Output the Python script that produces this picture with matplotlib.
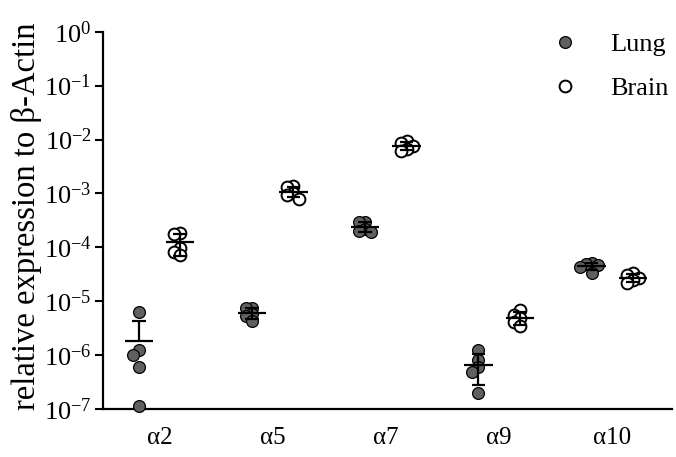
import numpy as np
import matplotlib
matplotlib.use('Agg')
import matplotlib.pyplot as plt
from matplotlib.lines import Line2D

plt.rcParams['font.family'] = ['Liberation Serif', 'DejaVu Serif']
plt.rcParams['mathtext.fontset'] = 'custom'
plt.rcParams['mathtext.rm'] = 'Liberation Serif'
plt.rcParams['mathtext.it'] = 'Liberation Serif:italic'

categories = ['α2', 'α5', 'α7', 'α9', 'α10']

# relative expression, 5 animals per subunit
lung_expr = [
    [6.2e-6, 1.24e-6, 1.0e-6, 6.0e-7, 1.15e-7],
    [7.6e-6, 7.4e-6, 5.8e-6, 5.4e-6, 4.3e-6],
    [3.0e-4, 2.9e-4, 2.2e-4, 2.0e-4, 1.9e-4],
    [1.24e-6, 8.1e-7, 6.1e-7, 4.9e-7, 1.95e-7],
    [5.1e-5, 4.9e-5, 4.6e-5, 4.3e-5, 3.3e-5],
]
brain_expr = [
    [1.85e-4, 1.8e-4, 9.7e-5, 8.3e-5, 7.2e-5],
    [1.35e-3, 1.3e-3, 1.0e-3, 0.95e-3, 0.8e-3],
    [9.5e-3, 8.5e-3, 7.6e-3, 6.8e-3, 6.2e-3],
    [6.9e-6, 5.5e-6, 4.8e-6, 4.2e-6, 3.4e-6],
    [3.3e-5, 3.05e-5, 2.75e-5, 2.45e-5, 2.2e-5],
]

ytick_exp = [0, -1, -2, -3, -4, -5, -6, -7]

fig = plt.figure(figsize=(6.76, 4.57), dpi=100)
ax = fig.add_axes([0.152, 0.105, 0.842, 0.8256])
ax.set_yscale('log')
ax.set_ylim(1e-7, 1)
ax.set_xlim(-0.5, 4.53)


def swarm(vals, center, min_px=6.0):
    # spread overlapping points sideways (in screen pixels)
    pts = ax.transData.transform(np.column_stack([np.full(len(vals), center), vals]))
    ypx = pts[:, 1]
    x0 = pts[0, 0]
    placed = []
    xs = np.zeros(len(vals))
    for i in np.argsort(vals)[::-1]:
        for k in [0, -1, 1, -2, 2, -3, 3]:
            xp = k * min_px
            if all(np.hypot(xp - px, ypx[i] - py) >= min_px for px, py in placed):
                break
        placed.append((xp, ypx[i]))
        xs[i] = ax.transData.inverted().transform((x0 + xp, ypx[i]))[0]
    return xs


def draw_group(vals, center, face, lw):
    vals = np.array(vals)
    xs = swarm(vals, center)
    ax.plot(xs, vals, 'o', ms=8.5, mfc=face, mec='black', mew=lw,
            clip_on=False, zorder=3)
    m = vals.mean()
    sd = vals.std(ddof=1)
    ax.hlines(m, center - 0.125, center + 0.125, color='black', lw=1.6, zorder=4)
    ax.vlines(center, m, m + sd, color='black', lw=1.6, zorder=4)
    ax.hlines(m + sd, center - 0.06, center + 0.06, color='black', lw=1.6, zorder=4)
    if m - sd > 0:
        ax.vlines(center, m - sd, m, color='black', lw=1.6, zorder=4)
        ax.hlines(m - sd, center - 0.06, center + 0.06, color='black', lw=1.6, zorder=4)


for i in range(len(categories)):
    draw_group(lung_expr[i], i - 0.18, '#606060', 0.9)
    draw_group(brain_expr[i], i + 0.185, 'white', 1.4)

ax.set_xticks(range(len(categories)))
ax.set_xticklabels(categories, fontsize=18)
ax.tick_params(axis='x', length=0, pad=13)
ax.set_yticks([10.0 ** e for e in ytick_exp])
ax.set_yticklabels([r'$10^{%d}$' % e for e in ytick_exp], fontsize=19)
ax.yaxis.set_minor_locator(matplotlib.ticker.NullLocator())
ax.tick_params(axis='y', length=6, width=1.5, pad=2)

for s in ['top', 'right']:
    ax.spines[s].set_visible(False)
for s in ['left', 'bottom']:
    ax.spines[s].set_linewidth(1.6)

ax.set_ylabel('relative expression to β-Actin', fontsize=23.5)
ax.yaxis.set_label_coords(-0.107, 0.51)

handles = [
    Line2D([], [], ls='none', marker='o', ms=8.5, mfc='#606060', mec='black', mew=0.9),
    Line2D([], [], ls='none', marker='o', ms=8.5, mfc='white', mec='black', mew=1.4),
]
ax.legend(handles, ['Lung', 'Brain'], loc='upper left', bbox_to_anchor=(0.747, 1.060),
          frameon=False, fontsize=19, handlelength=1.0, handletextpad=1.21,
          labelspacing=0.76)

fig.savefig('out.png', dpi=100)
